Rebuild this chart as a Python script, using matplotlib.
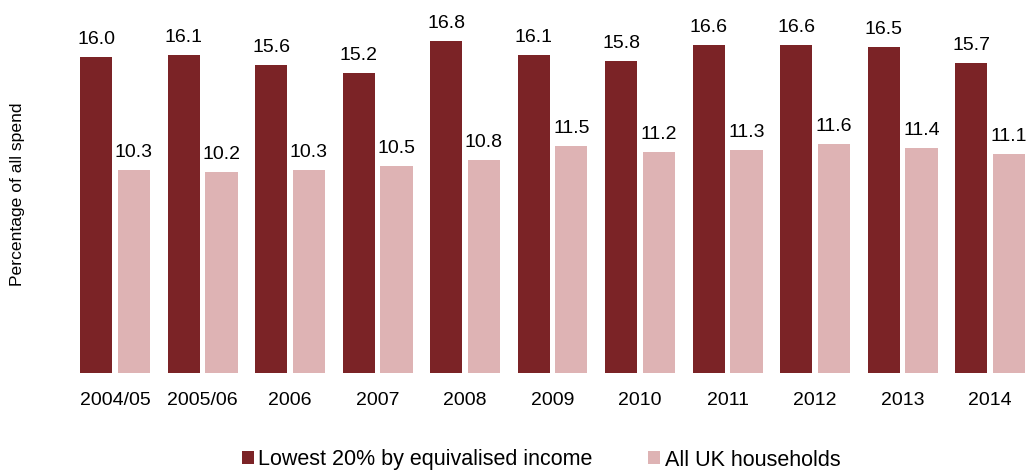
import matplotlib.pyplot as plt
import numpy as np

years = ["2004/05", "2005/06", "2006", "2007", "2008", "2009", "2010", "2011", "2012", "2013", "2014"]
lowest = [16.0, 16.1, 15.6, 15.2, 16.8, 16.1, 15.8, 16.6, 16.6, 16.5, 15.7]
all_uk = [10.3, 10.2, 10.3, 10.5, 10.8, 11.5, 11.2, 11.3, 11.6, 11.4, 11.1]

plt.rcParams["font.family"] = ["Liberation Sans", "DejaVu Sans"]

W, H = 1028, 472
fig = plt.figure(figsize=(W / 100, H / 100), dpi=100)
# axes placed in pixel terms
left_px, right_px, top_px, bottom_px = 60, 1028, 0, 373
ax = fig.add_axes([left_px / W, 1 - bottom_px / H, (right_px - left_px) / W, (bottom_px - top_px) / H])

dark = "#7B2326"
light = "#DEB3B4"
x = np.arange(len(years))
w = 0.366
off = 0.217
b1 = ax.bar(x - off, lowest, w, color=dark, label="Lowest 20% by equivalised income")
b2 = ax.bar(x + off, all_uk, w, color=light, label="All UK households")

for bars, vals in ((b1, lowest), (b2, all_uk)):
    for r, v in zip(bars, vals):
        ax.text(r.get_x() + r.get_width() / 2, v + 0.45, f"{v:.1f}", ha="center", va="bottom", fontsize=14)

spacing = 87.5
ax.set_xlim((left_px - 115) / spacing, (right_px - 115) / spacing)
ax.set_ylim(0, 373 / 19.75)
ax.set_xticks(x)
ax.set_xticklabels(years, fontsize=14)
ax.tick_params(axis="x", length=0, pad=14)
ax.set_yticks([])
for s in ax.spines.values():
    s.set_visible(False)

fig.text(18 / W, 1 - 194 / H, "Percentage of all spend", rotation=90, ha="center", va="center", fontsize=12.6)

fig.legend(loc="center", bbox_to_anchor=(541 / W, 1 - 460 / H), ncol=2, frameon=False, fontsize=15.5,
           handlelength=0.56, handleheight=0.56, handletextpad=0.19, columnspacing=2.6)

fig.savefig("out.png", dpi=100)
